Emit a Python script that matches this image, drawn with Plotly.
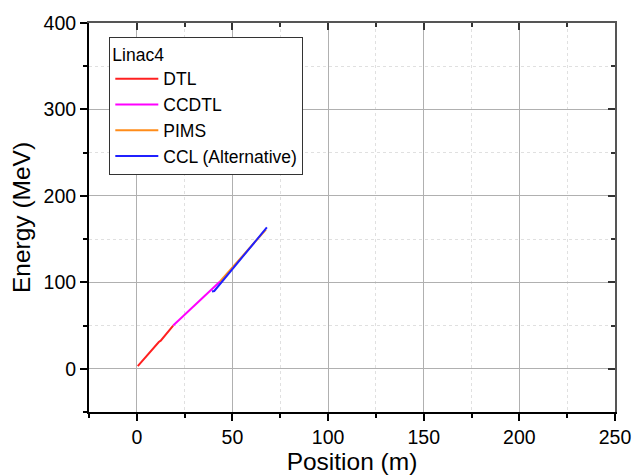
import plotly.graph_objects as go

# Data
dtl_x = [0.5, 4.0, 5.0, 11.5, 12.5, 19.0]
dtl_y = [3.0, 12.0, 13.5, 31.0, 32.5, 50.0]
ccdtl_x = [19.0, 43.5]
ccdtl_y = [50.0, 101.0]
pims_x = [43.5, 67.5]
pims_y = [101.0, 161.0]
ccl_x = [39.3, 40.5, 68.0]
ccl_y = [89.5, 90.0, 163.5]

names = ["DTL", "CCDTL", "PIMS", "CCL (Alternative)"]
colors = ["#FF2020", "#FF00FF", "#FF8C1A", "#2020FF"]

fig = go.Figure()
for xs, ys, n, c in zip([dtl_x, ccdtl_x, pims_x, ccl_x],
                        [dtl_y, ccdtl_y, pims_y, ccl_y], names, colors):
    fig.add_trace(go.Scatter(x=xs, y=ys, mode="lines", name=n,
                             line=dict(color=c, width=2)))

# dummy trace for mirrored top/right axes
fig.add_trace(go.Scatter(x=[None], y=[None], xaxis="x2", yaxis="y2",
                         showlegend=False, hoverinfo="skip"))

font = "Liberation Sans, Arial, sans-serif"
tickfont = dict(family=font, size=19.5, color="black")

fig.update_layout(
    width=643, height=476,
    margin=dict(l=81, r=36, t=15, b=72),
    paper_bgcolor="white", plot_bgcolor="white",
    font=dict(family=font, color="black"),
    showlegend=True,
    legend=dict(
        title=dict(text="Linac4", font=dict(family=font, size=17.5)),
        font=dict(family=font, size=17.5),
        x=0.0386, y=0.964, xanchor="left", yanchor="top",
        bordercolor="#333333", borderwidth=1, bgcolor="white",
        tracegroupgap=0, itemwidth=43,
    ),
    xaxis=dict(
        range=[-25, 250], tickvals=[0, 50, 100, 150, 200, 250],
        automargin=False,
        showline=True, linecolor="black", linewidth=2,
        ticks="outside", ticklen=7, tickwidth=1.5, tickcolor="black",
        tickfont=tickfont, zeroline=False,
        showgrid=True, gridcolor="#b0b0b0", gridwidth=1,
        minor=dict(tickvals=[-25, 25, 75, 125, 175, 225], ticks="outside",
                   ticklen=4, tickwidth=1.5, tickcolor="black",
                   showgrid=True, gridcolor="#e0e0e0", griddash="dot"),
        title=dict(text="Position (m)", font=dict(family=font, size=24.5),
                   standoff=3),
    ),
    yaxis=dict(
        range=[-50, 400], tickvals=[0, 100, 200, 300, 400],
        automargin=False,
        showline=True, linecolor="black", linewidth=2,
        ticks="outside", ticklen=7, tickwidth=1.5, tickcolor="black",
        tickfont=tickfont, zeroline=False,
        showgrid=True, gridcolor="#b0b0b0", gridwidth=1,
        minor=dict(tickvals=[-50, 50, 150, 250, 350], ticks="outside",
                   ticklen=4, tickwidth=1.5, tickcolor="black",
                   showgrid=True, gridcolor="#e0e0e0", griddash="dot"),
        title=dict(text="Energy (MeV)", font=dict(family=font, size=24.5),
                   standoff=8),
    ),
    xaxis2=dict(
        range=[-25, 250], overlaying="x", side="top", anchor="y",
        automargin=False,
        tickvals=[0, 50, 100, 150, 200, 250], showticklabels=False,
        showline=True, linecolor="#555555", linewidth=1.5,
        ticks="inside", ticklen=7, tickwidth=1.5, tickcolor="#333333",
        showgrid=False, zeroline=False,
        minor=dict(tickvals=[25, 75, 125, 175, 225], ticks="inside",
                   ticklen=4, tickcolor="#333333"),
    ),
    yaxis2=dict(
        range=[-50, 400], overlaying="y", side="right", anchor="x",
        automargin=False,
        tickvals=[0, 100, 200, 300, 400], showticklabels=False,
        showline=True, linecolor="#555555", linewidth=1.5,
        ticks="inside", ticklen=7, tickwidth=1.5, tickcolor="#333333",
        showgrid=False, zeroline=False,
        minor=dict(tickvals=[50, 150, 250, 350], ticks="inside",
                   ticklen=4, tickcolor="#333333"),
    ),
)

fig.write_html("out.html")
